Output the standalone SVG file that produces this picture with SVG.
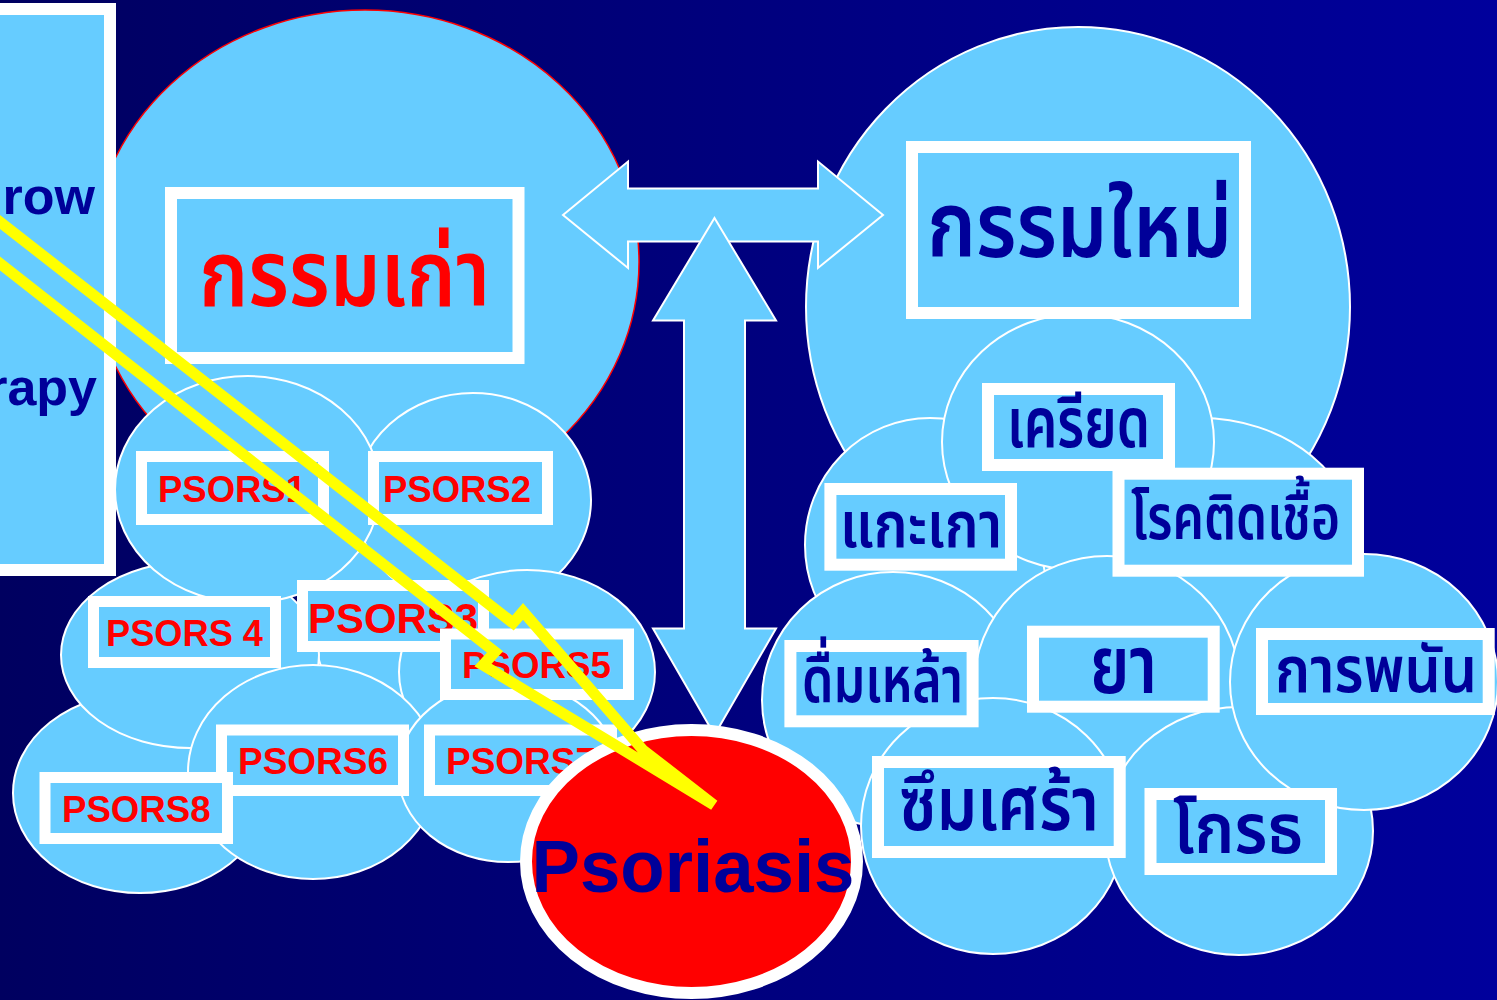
<svg xmlns="http://www.w3.org/2000/svg" width="1497" height="1000" viewBox="0 0 1497 1000">
<defs>
<linearGradient id="bg" x1="0" y1="0" x2="1" y2="0">
<stop offset="0" stop-color="#000060"/>
<stop offset="1" stop-color="#00009C"/>
</linearGradient>
<style>
.c{fill:#66CCFF;stroke:#FFFFFF;stroke-width:2}
.bx{fill:#66CCFF;stroke:#FFFFFF;stroke-width:12}
.bs{fill:#66CCFF;stroke:#FFFFFF;stroke-width:11}
.ps{font-family:'Liberation Sans',Arial,sans-serif;font-weight:bold;font-size:37px;fill:#FF0000}
.th{font-family:'Noto Sans Thai','Noto Serif Thai',Garuda,Loma,'Tlwg Typo',Waree,'Noto Sans','DejaVu Sans',sans-serif;font-weight:600;fill:#000099}
.en{font-family:'Liberation Sans',Arial,sans-serif;font-weight:bold;fill:#000099}
</style>
</defs>
<rect x="0" y="0" width="1497" height="1000" fill="url(#bg)"/>

<g id="old-karma-circle"><ellipse cx="365" cy="262" rx="274" ry="252" fill="#66CCFF" stroke="#FF0000" stroke-width="1.5"/></g>
<g id="new-karma-circle"><ellipse cx="1078" cy="307" rx="272" ry="280" class="c"/></g>

<g id="psors-circles">
<ellipse id="c-psors3" cx="420" cy="630" rx="105" ry="110" class="c"/>
<ellipse id="c-psors2" cx="473" cy="500" rx="118" ry="107" class="c"/>
<ellipse id="c-psors8" cx="140" cy="793" rx="127" ry="100" class="c"/>
<ellipse id="c-psors4" cx="190" cy="655" rx="129" ry="93" class="c"/>
<ellipse id="c-psors1" cx="247.5" cy="489.5" rx="132.5" ry="113.5" class="c"/>
<ellipse id="c-psors5" cx="527" cy="672" rx="128" ry="102" class="c"/>
<ellipse id="c-psors6" cx="313" cy="772" rx="125" ry="107" class="c"/>
<ellipse id="c-psors7" cx="508" cy="772" rx="110" ry="90" class="c"/>
</g>

<g id="factor-circles">
<ellipse cx="930" cy="545" rx="125" ry="127" class="c"/>
<ellipse cx="1200" cy="548" rx="158" ry="130" class="c"/>
<ellipse cx="1078" cy="442" rx="136" ry="128" class="c"/>
<ellipse cx="893" cy="700" rx="131" ry="128" class="c"/>
<ellipse cx="1107" cy="686" rx="133" ry="130" class="c"/>
<ellipse cx="993" cy="826" rx="132" ry="128" class="c"/>
<ellipse cx="1239" cy="831" rx="134" ry="124" class="c"/>
<ellipse cx="1364" cy="682" rx="134" ry="128" class="c"/>
</g>

<g id="therapy-box">
<rect x="-20" y="9" width="130" height="561" class="bx"/>
<text x="95" y="214" class="en" font-size="52" text-anchor="end">row</text>
<text x="97" y="405" class="en" font-size="52" text-anchor="end">rapy</text>
</g>

<g id="old-karma">
<rect x="171" y="193" width="347.5" height="165" class="bx"/>
<text x="199" y="306" class="th" font-size="92" style="fill:#FF0000" textLength="291" lengthAdjust="spacingAndGlyphs">กรรมเก่า</text>
</g>
<g id="new-karma">
<rect x="912" y="147" width="333" height="166" class="bx"/>
<text x="927" y="257" class="th" font-size="90" textLength="305" lengthAdjust="spacingAndGlyphs">กรรมใหม่</text>
</g>

<g id="psors1"><rect x="141.5" y="456.5" width="182" height="63" class="bs"/><text x="158" y="502" class="ps" textLength="148" lengthAdjust="spacingAndGlyphs">PSORS1</text></g>
<g id="psors2"><rect x="373.5" y="456.5" width="174" height="63" class="bs"/><text x="383" y="502" class="ps" textLength="148" lengthAdjust="spacingAndGlyphs">PSORS2</text></g>
<g id="psors4"><rect x="93.5" y="601.5" width="182" height="61" class="bs"/><text x="106" y="646" class="ps" textLength="157" lengthAdjust="spacingAndGlyphs">PSORS 4</text></g>
<g id="psors3"><rect x="302.5" y="585.5" width="181" height="61" class="bs"/><text x="308" y="633" class="ps" style="font-size:42px" textLength="170" lengthAdjust="spacingAndGlyphs">PSORS3</text></g>
<g id="psors5"><rect x="445.5" y="634" width="183" height="60.5" class="bs"/><text x="462" y="678" class="ps" textLength="149" lengthAdjust="spacingAndGlyphs">PSORS5</text></g>
<g id="psors6"><rect x="221.5" y="730" width="182" height="60.5" class="bs"/><text x="238" y="774" class="ps" textLength="150" lengthAdjust="spacingAndGlyphs">PSORS6</text></g>
<g id="psors7"><rect x="429.5" y="730" width="182" height="60.5" class="bs"/><text x="446" y="774" class="ps" textLength="150" lengthAdjust="spacingAndGlyphs">PSORS7</text></g>
<g id="psors8"><rect x="45" y="777.5" width="182.5" height="61" class="bs"/><text x="62" y="822" class="ps" textLength="148.5" lengthAdjust="spacingAndGlyphs">PSORS8</text></g>

<g id="stress"><rect x="988" y="389" width="181" height="76" class="bx"/><text x="1007" y="447" class="th" font-size="70" textLength="143" lengthAdjust="spacingAndGlyphs">เครียด</text></g>
<g id="scratch"><rect x="830.4" y="489" width="180.6" height="75.7" class="bx"/><text x="840" y="547" class="th" font-size="64" textLength="162" lengthAdjust="spacingAndGlyphs">แกะเกา</text></g>
<g id="infection"><rect x="1118.5" y="473.7" width="239.5" height="97" class="bx"/><text x="1131" y="539" class="th" font-size="62" textLength="209" lengthAdjust="spacingAndGlyphs">โรคติดเชื้อ</text></g>
<g id="alcohol"><rect x="790.4" y="646" width="182.2" height="75.3" class="bx"/><text x="802" y="702" class="th" font-size="64" textLength="161" lengthAdjust="spacingAndGlyphs">ดื่มเหล้า</text></g>
<g id="drug"><rect x="1033" y="631.7" width="180.7" height="75" class="bx"/><text x="1090" y="693" class="th" font-size="81" textLength="67" lengthAdjust="spacingAndGlyphs">ยา</text></g>
<g id="gambling"><rect x="1262" y="634" width="226.7" height="75" class="bx"/><text x="1275" y="692" class="th" font-size="64" textLength="202" lengthAdjust="spacingAndGlyphs">การพนัน</text></g>
<g id="depression"><rect x="878" y="762" width="241.7" height="90" class="bx"/><text x="899" y="830" class="th" font-size="75" textLength="200" lengthAdjust="spacingAndGlyphs">ซึมเศร้า</text></g>
<g id="anger"><rect x="1150.5" y="794" width="180.5" height="75" class="bx"/><text x="1173" y="853" class="th" font-size="70" textLength="130" lengthAdjust="spacingAndGlyphs">โกรธ</text></g>

<g id="connectors">
<polygon points="563,215 628,161.5 628,188.5 818,188.5 818,161.5 883,215 818,268 818,241.5 628,241.5 628,268" fill="#66CCFF" stroke="#FFFFFF" stroke-width="2"/>
<polygon points="714.5,218 776,320.5 745,320.5 745,628.5 776,628.5 714.5,735 653,628.5 684,628.5 684,320.5 653,320.5" fill="#66CCFF" stroke="#FFFFFF" stroke-width="2"/>
</g>

<g id="psoriasis">
<ellipse cx="691.5" cy="861.5" rx="165.5" ry="131.5" fill="#FF0000" stroke="#FFFFFF" stroke-width="12"/>
<text x="693" y="892" class="en" font-size="74" text-anchor="middle" textLength="323" lengthAdjust="spacingAndGlyphs">Psoriasis</text>
</g>

<g id="bolt">
<polygon points="-30,198.5 513,623 523,611.5 643,750 714,805 483,665 495,652 -30,240" fill="none" stroke="#FFFF00" stroke-width="11" stroke-linejoin="miter" stroke-miterlimit="4"/>
</g>
</svg>
